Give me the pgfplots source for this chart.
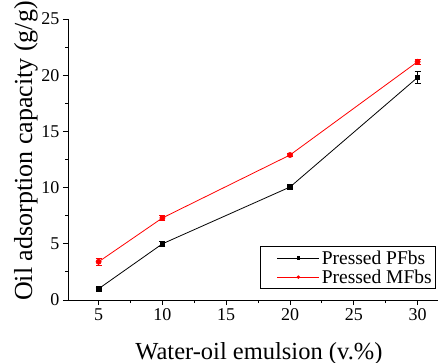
\documentclass[border=0pt]{standalone}
\usepackage{pgfplots}
\pgfplotsset{compat=1.18}
\usepackage{fontspec}
\setmainfont{Liberation Serif}
\usetikzlibrary{calc}
\begin{document}
\begin{tikzpicture}
\begin{axis}[
  name=ax, scale only axis, width=370pt, height=281pt,
  xmin=2.6, xmax=31.6, ymin=0, ymax=25,
  axis x line*=bottom, axis y line*=left,
  axis line style={-, line width=0.8pt},
  xtick={5,10,15,20,25,30}, ytick={0,5,10,15,20,25}, minor tick num=1,
  tick align=outside, major tick length=5pt, minor tick length=3pt,
  tick style={line width=0.8pt, black},
  ticklabel style={font=\fontsize{18}{18}\selectfont},
  /pgf/number format/assume math mode=true,
  xlabel={Water-oil emulsion (v.\%)},
  ylabel={Oil adsorption capacity (g/g)},
  xlabel style={font=\fontsize{24.5}{24.5}\selectfont, at={(axis description cs:0.516,-0.21)}, anchor=base},
  ylabel style={font=\fontsize{26}{26}\selectfont, at={(axis description cs:-0.097,0.53)}, anchor=base, rotate=0},
  legend style={at={(axis description cs:0.995,0.039)}, anchor=south east,
    font=\fontsize{19.5}{24}\selectfont, draw=black, line width=0.8pt,
    inner xsep=2pt, inner ysep=2pt},
  legend cell align=left,
  legend image code/.code={\path (-6pt,0pt); \draw[mark repeat=2,mark phase=2, mark size=1.3pt] plot coordinates {(9pt,0pt) (30pt,0pt) (51pt,0pt)};},
]
\addplot[black, line width=0.8pt, mark=square*, mark size=2.3pt, mark options={solid},
  error bars/.cd, y dir=both, y explicit,
  error bar style={line width=0.8pt, black},
  error mark options={rotate=90, mark size=3pt, line width=0.8pt, black}]
  coordinates {(5,1.0) +- (0,0.08) (10,5.0) +- (0,0.2) (20,10.05) +- (0,0.1) (30,19.8) +- (0,0.5)};
\addlegendentry{Pressed PFbs}
\addplot[red, line width=0.8pt, mark=*, mark size=2.5pt, mark options={solid},
  error bars/.cd, y dir=both, y explicit,
  error bar style={line width=0.8pt, red},
  error mark options={rotate=90, mark size=3pt, line width=0.8pt, red}]
  coordinates {(5,3.4) +- (0,0.3) (10,7.3) +- (0,0.22) (20,12.9) +- (0,0.1) (30,21.2) +- (0,0.22)};
\addlegendentry{Pressed MFbs}
\end{axis}
\pgfresetboundingbox
\path[use as bounding box] ($(ax.south west)+(-68pt,-63pt)$) rectangle ($(ax.north east)+(0pt,19pt)$);
\end{tikzpicture}
\end{document}
